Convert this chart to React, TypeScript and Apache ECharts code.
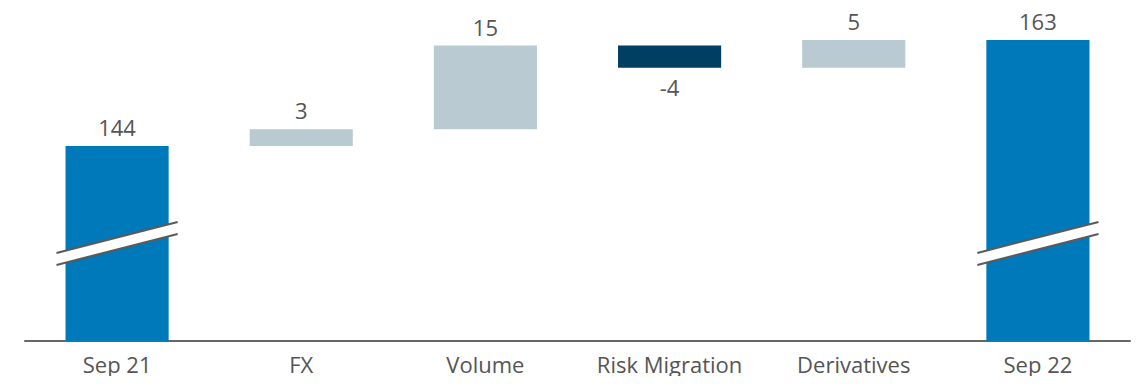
import React, { useEffect, useRef } from "react";
import * as echarts from "echarts";

const categories = ["Sep 21", "FX", "Volume", "Risk Migration", "Derivatives", "Sep 22"];
const baseValues = [0, 144, 147, 158, 158, 0];
const barValues = [144, 3, 15, 4, 5, 163];
const displayLabels = ["144", "3", "15", "-4", "5", "163"];
const barColors = ["#0079bb", "#b9cad2", "#b9cad2", "#003f62", "#b9cad2", "#0079bb"];
const labelBelow = [false, false, false, true, false, false];
const breakValue = 126.5;
const breakData = [[0, breakValue], [5, breakValue]];

const FONT = "'Open Sans', 'Noto Sans', sans-serif";

export default function App() {
  const ref = useRef<HTMLDivElement>(null);
  useEffect(() => {
    if (!ref.current) return;
    const chart = echarts.init(ref.current, null, { renderer: "svg" });
    chart.setOption({
      animation: false,
      grid: { left: 25, right: 9, top: 40, bottom: 43 },
      xAxis: {
        type: "category",
        data: categories,
        axisLine: { lineStyle: { color: "#666666", width: 2 } },
        axisTick: { show: false },
        axisLabel: { interval: 0, fontSize: 22, color: "#555555", margin: 12, fontFamily: FONT },
      },
      yAxis: { type: "value", min: 109, max: 163, show: false, splitLine: { show: false } },
      series: [
        {
          type: "bar",
          stack: "wf",
          data: baseValues,
          barWidth: "56%",
          itemStyle: { color: "transparent" },
          silent: true,
        },
        {
          type: "bar",
          stack: "wf",
          barWidth: "56%",
          data: barValues.map((v, i) => ({
            value: v,
            itemStyle: { color: barColors[i] },
            label: {
              show: true,
              position: labelBelow[i] ? "bottom" : "top",
              distance: 8,
              formatter: () => displayLabels[i],
              fontSize: 22,
              color: "#555555",
              fontFamily: FONT,
            },
          })),
        },
        {
          type: "custom",
          data: breakData,
          clip: false,
          z: 10,
          renderItem: (params: any, api: any) => {
            const c = api.coord([api.value(0), api.value(1)]);
            const hw = (api.size([1, 0])[0] * 0.56) / 2 + 9;
            const slope = 15.5;
            const g = 6;
            const x1 = c[0] - hw;
            const x2 = c[0] + hw;
            return {
              type: "group",
              children: [
                {
                  type: "polygon",
                  shape: {
                    points: [
                      [x1, c[1] + slope - g],
                      [x2, c[1] - slope - g],
                      [x2, c[1] - slope + g],
                      [x1, c[1] + slope + g],
                    ],
                  },
                  style: { fill: "#ffffff" },
                },
                {
                  type: "line",
                  shape: { x1, y1: c[1] + slope - g, x2, y2: c[1] - slope - g },
                  style: { stroke: "#5a5a5a", lineWidth: 2 },
                },
                {
                  type: "line",
                  shape: { x1, y1: c[1] + slope + g, x2, y2: c[1] - slope + g },
                  style: { stroke: "#5a5a5a", lineWidth: 2 },
                },
              ],
            };
          },
        },
      ],
    });
    return () => chart.dispose();
  }, []);
  return <div ref={ref} style={{ width: 1139, height: 384, margin: -8 }} />;
}
